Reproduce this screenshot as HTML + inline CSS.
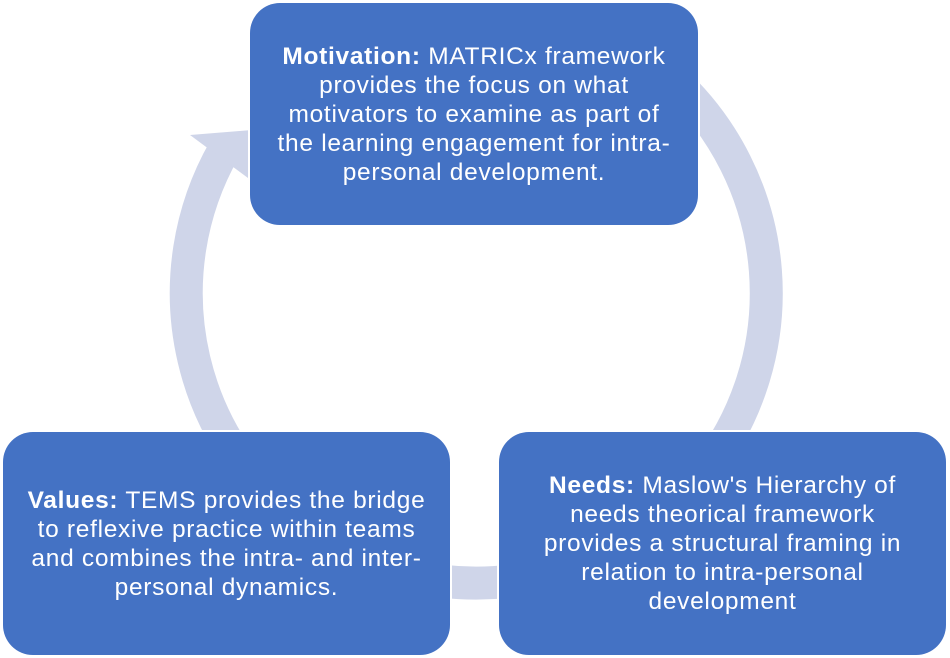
<!DOCTYPE html>
<html><head><style>
body{margin:0;width:950px;height:658px;background:#fff;position:relative;overflow:hidden;font-family:"Liberation Sans",sans-serif;}
.b{position:absolute;background:#4472C4;border-radius:30px;color:#fff;font-size:24.5px;letter-spacing:0.7px;line-height:29px;text-align:center;display:flex;align-items:center;justify-content:center;box-sizing:border-box;padding:0;box-shadow:0 0 0 2px #fff;white-space:nowrap;}
</style></head><body>
<svg width="950" height="658" style="position:absolute;left:0;top:0">
<path d="M 224 150 A 290 290 0 1 0 673 80" fill="none" stroke="#CFD5E9" stroke-width="33"/>
<polygon points="190,135 290,127 248,178" fill="#CFD5E9"/>
</svg>
<div class="b" style="left:250px;top:3px;width:448px;height:222px;"><div><b>Motivation:</b> MATRICx framework<br>provides the focus on what<br>motivators to examine as part of<br>the learning engagement for intra-<br>personal development.</div></div>
<div class="b" style="left:3px;top:432px;width:447px;height:223px;"><div><b>Values:</b> TEMS provides the bridge<br>to reflexive practice within teams<br>and combines the intra- and inter-<br>personal dynamics.</div></div>
<div class="b" style="left:499px;top:432px;width:447px;height:223px;"><div><b>Needs:</b> Maslow's Hierarchy of<br>needs theorical framework<br>provides a structural framing in<br>relation to intra-personal<br>development</div></div>
</body></html>
